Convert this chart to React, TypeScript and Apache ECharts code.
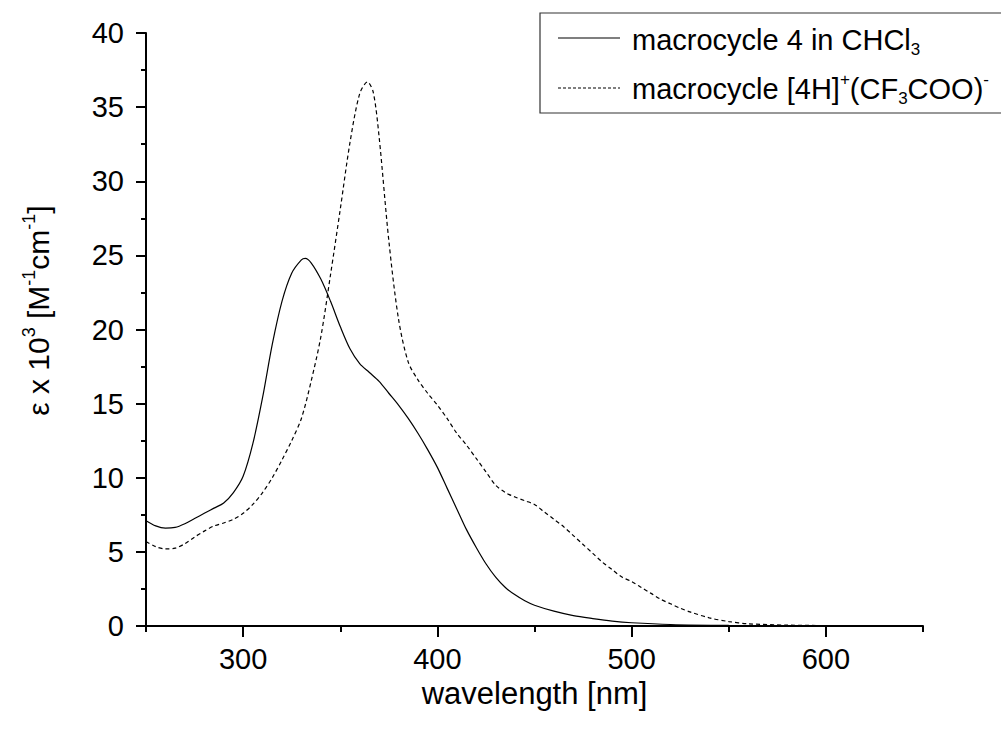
import React, { useEffect, useRef } from "react";
import * as echarts from "echarts";

const wavelengthsA = [250,255,260,265,270,275,280,285,290,295,300,305,310,315,320,325,330,332,335,340,345,350,355,360,365,370,375,380,385,390,395,400,405,410,415,420,425,430,435,440,445,450,460,470,480,490,500,520,550,600,650];
const epsA = [7.1,6.75,6.6,6.65,6.9,7.25,7.6,7.95,8.3,9.0,10.1,12.3,15.4,19.0,21.9,23.8,24.7,24.8,24.5,23.4,21.9,20.2,18.7,17.7,17.1,16.5,15.7,14.9,14.0,13.0,11.9,10.7,9.3,7.9,6.5,5.3,4.2,3.3,2.6,2.1,1.7,1.4,1.0,0.7,0.5,0.33,0.22,0.1,0.04,0.01,0];

const wavelengthsB = [250,255,260,265,270,275,280,285,290,295,300,305,310,315,320,325,330,335,340,345,350,355,360,364,367,370,375,380,385,390,395,400,405,410,415,420,425,430,435,440,445,450,455,460,465,470,475,480,485,490,495,500,505,510,515,520,525,530,540,550,560,580,600,650];
const epsB = [5.7,5.35,5.2,5.25,5.55,6.0,6.4,6.75,6.95,7.2,7.6,8.2,9.0,10.0,11.2,12.5,14.0,16.5,19.5,23.7,28.1,32.6,35.9,36.7,36.0,33.0,26.0,20.7,17.8,16.6,15.7,14.9,14.0,13.0,12.2,11.3,10.4,9.5,9.0,8.7,8.45,8.2,7.7,7.2,6.7,6.1,5.5,4.9,4.3,3.8,3.3,3.0,2.6,2.2,1.8,1.5,1.2,0.95,0.55,0.3,0.15,0.06,0.03,0];

const xMajorTicks = [300, 400, 500, 600];
const xMinorTicks = [250, 350, 450, 550, 650];

const FONT = "'Liberation Sans', Arial, sans-serif";

export default function App() {
  const ref = useRef<HTMLDivElement>(null);
  useEffect(() => {
    if (!ref.current) return;
    const chart = echarts.init(ref.current, null, { renderer: "svg" });
    const dataA = wavelengthsA.map((w, i) => [w, epsA[i]]);
    const dataB = wavelengthsB.map((w, i) => [w, epsB[i]]);
    const mkRich = (size: number, supSize: number, lh: number) => ({
      sup: { fontSize: supSize, verticalAlign: "top", fontFamily: FONT, color: "#000", lineHeight: lh },
      sub: { fontSize: supSize, verticalAlign: "bottom", fontFamily: FONT, color: "#000", lineHeight: lh },
      n: { fontSize: size, fontFamily: FONT, color: "#000", lineHeight: lh },
    });
    chart.setOption({
      animation: false,
      backgroundColor: "#fff",
      grid: { left: 146, right: 78, top: 33, bottom: 107, containLabel: false, outerBoundsMode: "none" },
      xAxis: [
        {
          type: "value",
          min: 250,
          max: 650,
          name: "wavelength [nm]",
          nameLocation: "middle",
          nameGap: 44,
          nameTextStyle: { fontSize: 31, fontFamily: FONT, color: "#000" },
          axisLine: { show: true, lineStyle: { color: "#000", width: 2 } },
          axisTick: { show: true, customValues: xMajorTicks, length: 11, lineStyle: { color: "#000", width: 2 } },
          axisLabel: { customValues: xMajorTicks, fontSize: 29, fontFamily: FONT, color: "#000", margin: 18 },
          splitLine: { show: false },
        },
        {
          type: "value",
          min: 250,
          max: 650,
          position: "bottom",
          axisLine: { show: false },
          axisTick: { show: true, customValues: xMinorTicks, length: 6, lineStyle: { color: "#000", width: 2 } },
          axisLabel: { show: false },
          splitLine: { show: false },
        },
      ],
      yAxis: {
        type: "value",
        min: 0,
        max: 40,
        interval: 5,
        name: "{n|ε x 10}{sup|3}{n| [M}{sup|-1}{n|cm}{sup|-1}{n|]}",
        nameLocation: "middle",
        nameRotate: 90,
        nameGap: 90,
        nameTextStyle: { fontSize: 30, fontFamily: FONT, color: "#000", rich: mkRich(30, 18, 36), padding: [0, 0, 0, 38] },
        axisLine: { show: true, lineStyle: { color: "#000", width: 2 } },
        axisTick: { show: true, length: 10, lineStyle: { color: "#000", width: 2 } },
        minorTick: { show: true, splitNumber: 2, length: 5, lineStyle: { color: "#000", width: 2 } },
        axisLabel: { fontSize: 29, fontFamily: FONT, color: "#000", margin: 22 },
        splitLine: { show: false },
        minorSplitLine: { show: false },
      },
      series: [
        {
          name: "macrocycle 4 in CHCl3",
          type: "line",
          data: dataA,
          smooth: 0.3,
          showSymbol: false,
          lineStyle: { color: "#000", width: 1.2, type: "solid" },
          z: 3,
        },
        {
          name: "macrocycle [4H]+(CF3COO)-",
          type: "line",
          data: dataB,
          smooth: 0.3,
          showSymbol: false,
          lineStyle: { color: "#000", width: 1.2, type: [4, 3] },
          z: 3,
        },
      ],
      graphic: [
        {
          type: "rect",
          shape: { x: 540, y: 13, width: 470, height: 100 },
          style: { fill: "#fff", stroke: "#333", lineWidth: 1.2 },
          z: 10,
        },
        {
          type: "line",
          shape: { x1: 558, y1: 38, x2: 620, y2: 38 },
          style: { stroke: "#000", lineWidth: 1.2 },
          z: 11,
        },
        {
          type: "line",
          shape: { x1: 558, y1: 88, x2: 620, y2: 88 },
          style: { stroke: "#000", lineWidth: 1.2, lineDash: [3, 2] },
          z: 11,
        },
        {
          type: "text",
          x: 632,
          y: 40,
          z: 11,
          style: {
            text: "{n|macrocycle 4 in CHCl}{sub|3}",
            verticalAlign: "middle",
            align: "left",
            rich: mkRich(29, 17, 36),
          },
        },
        {
          type: "text",
          x: 632,
          y: 89,
          z: 11,
          style: {
            text: "{n|macrocycle [4H]}{sup|+}{n|(CF}{sub|3}{n|COO)}{sup|-}",
            verticalAlign: "middle",
            align: "left",
            rich: mkRich(29, 17, 36),
          },
        },
      ],
    });
    return () => chart.dispose();
  }, []);
  return <div ref={ref} style={{ position: "fixed", left: 0, top: 0, width: 1001, height: 733 }} />;
}
